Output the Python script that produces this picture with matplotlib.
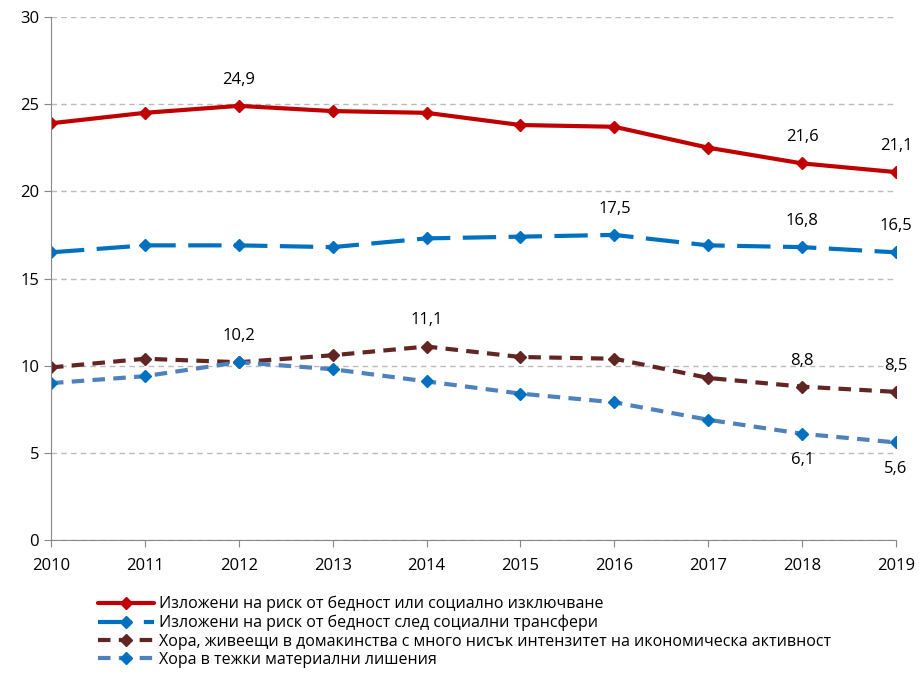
import matplotlib
matplotlib.use("Agg")
import matplotlib.pyplot as plt

plt.rcParams['font.family'] = ['Open Sans', 'DejaVu Sans']

years = [2010, 2011, 2012, 2013, 2014, 2015, 2016, 2017, 2018, 2019]
risk_total = [23.9, 24.5, 24.9, 24.6, 24.5, 23.8, 23.7, 22.5, 21.6, 21.1]
risk_after_transfers = [16.5, 16.9, 16.9, 16.8, 17.3, 17.4, 17.5, 16.9, 16.8, 16.5]
low_work_intensity = [9.9, 10.4, 10.2, 10.6, 11.1, 10.5, 10.4, 9.3, 8.8, 8.5]
material_deprivation = [9.0, 9.4, 10.2, 9.8, 9.1, 8.4, 7.9, 6.9, 6.1, 5.6]

labels = [
    "Изложени на риск от бедност или социално изключване",
    "Изложени на риск от бедност след социални трансфери",
    "Хора, живеещи в домакинства с много нисък интензитет на икономическа активност",
    "Хора в тежки материални лишения",
]

# which points get a value label: (year, above?)
annot_total = [(2012, True), (2018, True), (2019, True)]
annot_transfers = [(2016, True), (2018, True), (2019, True)]
annot_low = [(2012, True), (2014, True), (2018, True), (2019, True)]
annot_material = [(2018, False), (2019, False)]

fig = plt.figure(figsize=(9.2, 6.76), dpi=100)
ax = fig.add_axes([0.0554, 0.201, 0.9186, 0.774])

ax.plot(years, risk_total, color='#C00000', lw=3, marker='D', ms=6,
        label=labels[0], solid_capstyle='round')
ax.plot(years, risk_after_transfers, color='#0070C0', lw=3, marker='D', ms=6,
        dashes=(8, 3), label=labels[1])
ax.plot(years, low_work_intensity, color='#632523', lw=3, marker='D', ms=6,
        dashes=(3, 2), label=labels[2])
ax.plot(years, material_deprivation, color='#4F81BD', lw=3, marker='D', ms=6,
        mfc='#0070C0', mec='#0070C0', dashes=(3, 2), label=labels[3])


def fmt(v):
    return f"{v:.1f}".replace('.', ',')


for series, annots in [(risk_total, annot_total), (risk_after_transfers, annot_transfers),
                       (low_work_intensity, annot_low), (material_deprivation, annot_material)]:
    for yr, above in annots:
        v = series[years.index(yr)]
        ax.annotate(fmt(v), (yr, v), xytext=(0, 13 if above else -13),
                    textcoords='offset points', ha='center',
                    va='bottom' if above else 'top', fontsize=12)

ax.set_xlim(2010, 2019)
ax.set_ylim(0, 30)
ax.set_xticks(years)
ax.set_yticks(range(0, 31, 5))
ax.tick_params(labelsize=12, color='#888888', length=5)
ax.tick_params(axis='x', pad=8)
ax.yaxis.grid(True, color='#BBBBBB', ls=(0, (4, 3)), lw=1)
ax.set_axisbelow(True)
for s in ['top', 'right']:
    ax.spines[s].set_visible(False)
for s in ['left', 'bottom']:
    ax.spines[s].set_color('#888888')

fig.legend(loc='upper left', bbox_to_anchor=(0.1, 0.128), frameon=False,
           fontsize=11.5, handlelength=3.5, handletextpad=0.3, labelspacing=0.15,
           borderaxespad=0)

fig.savefig('out.png', dpi=100)
